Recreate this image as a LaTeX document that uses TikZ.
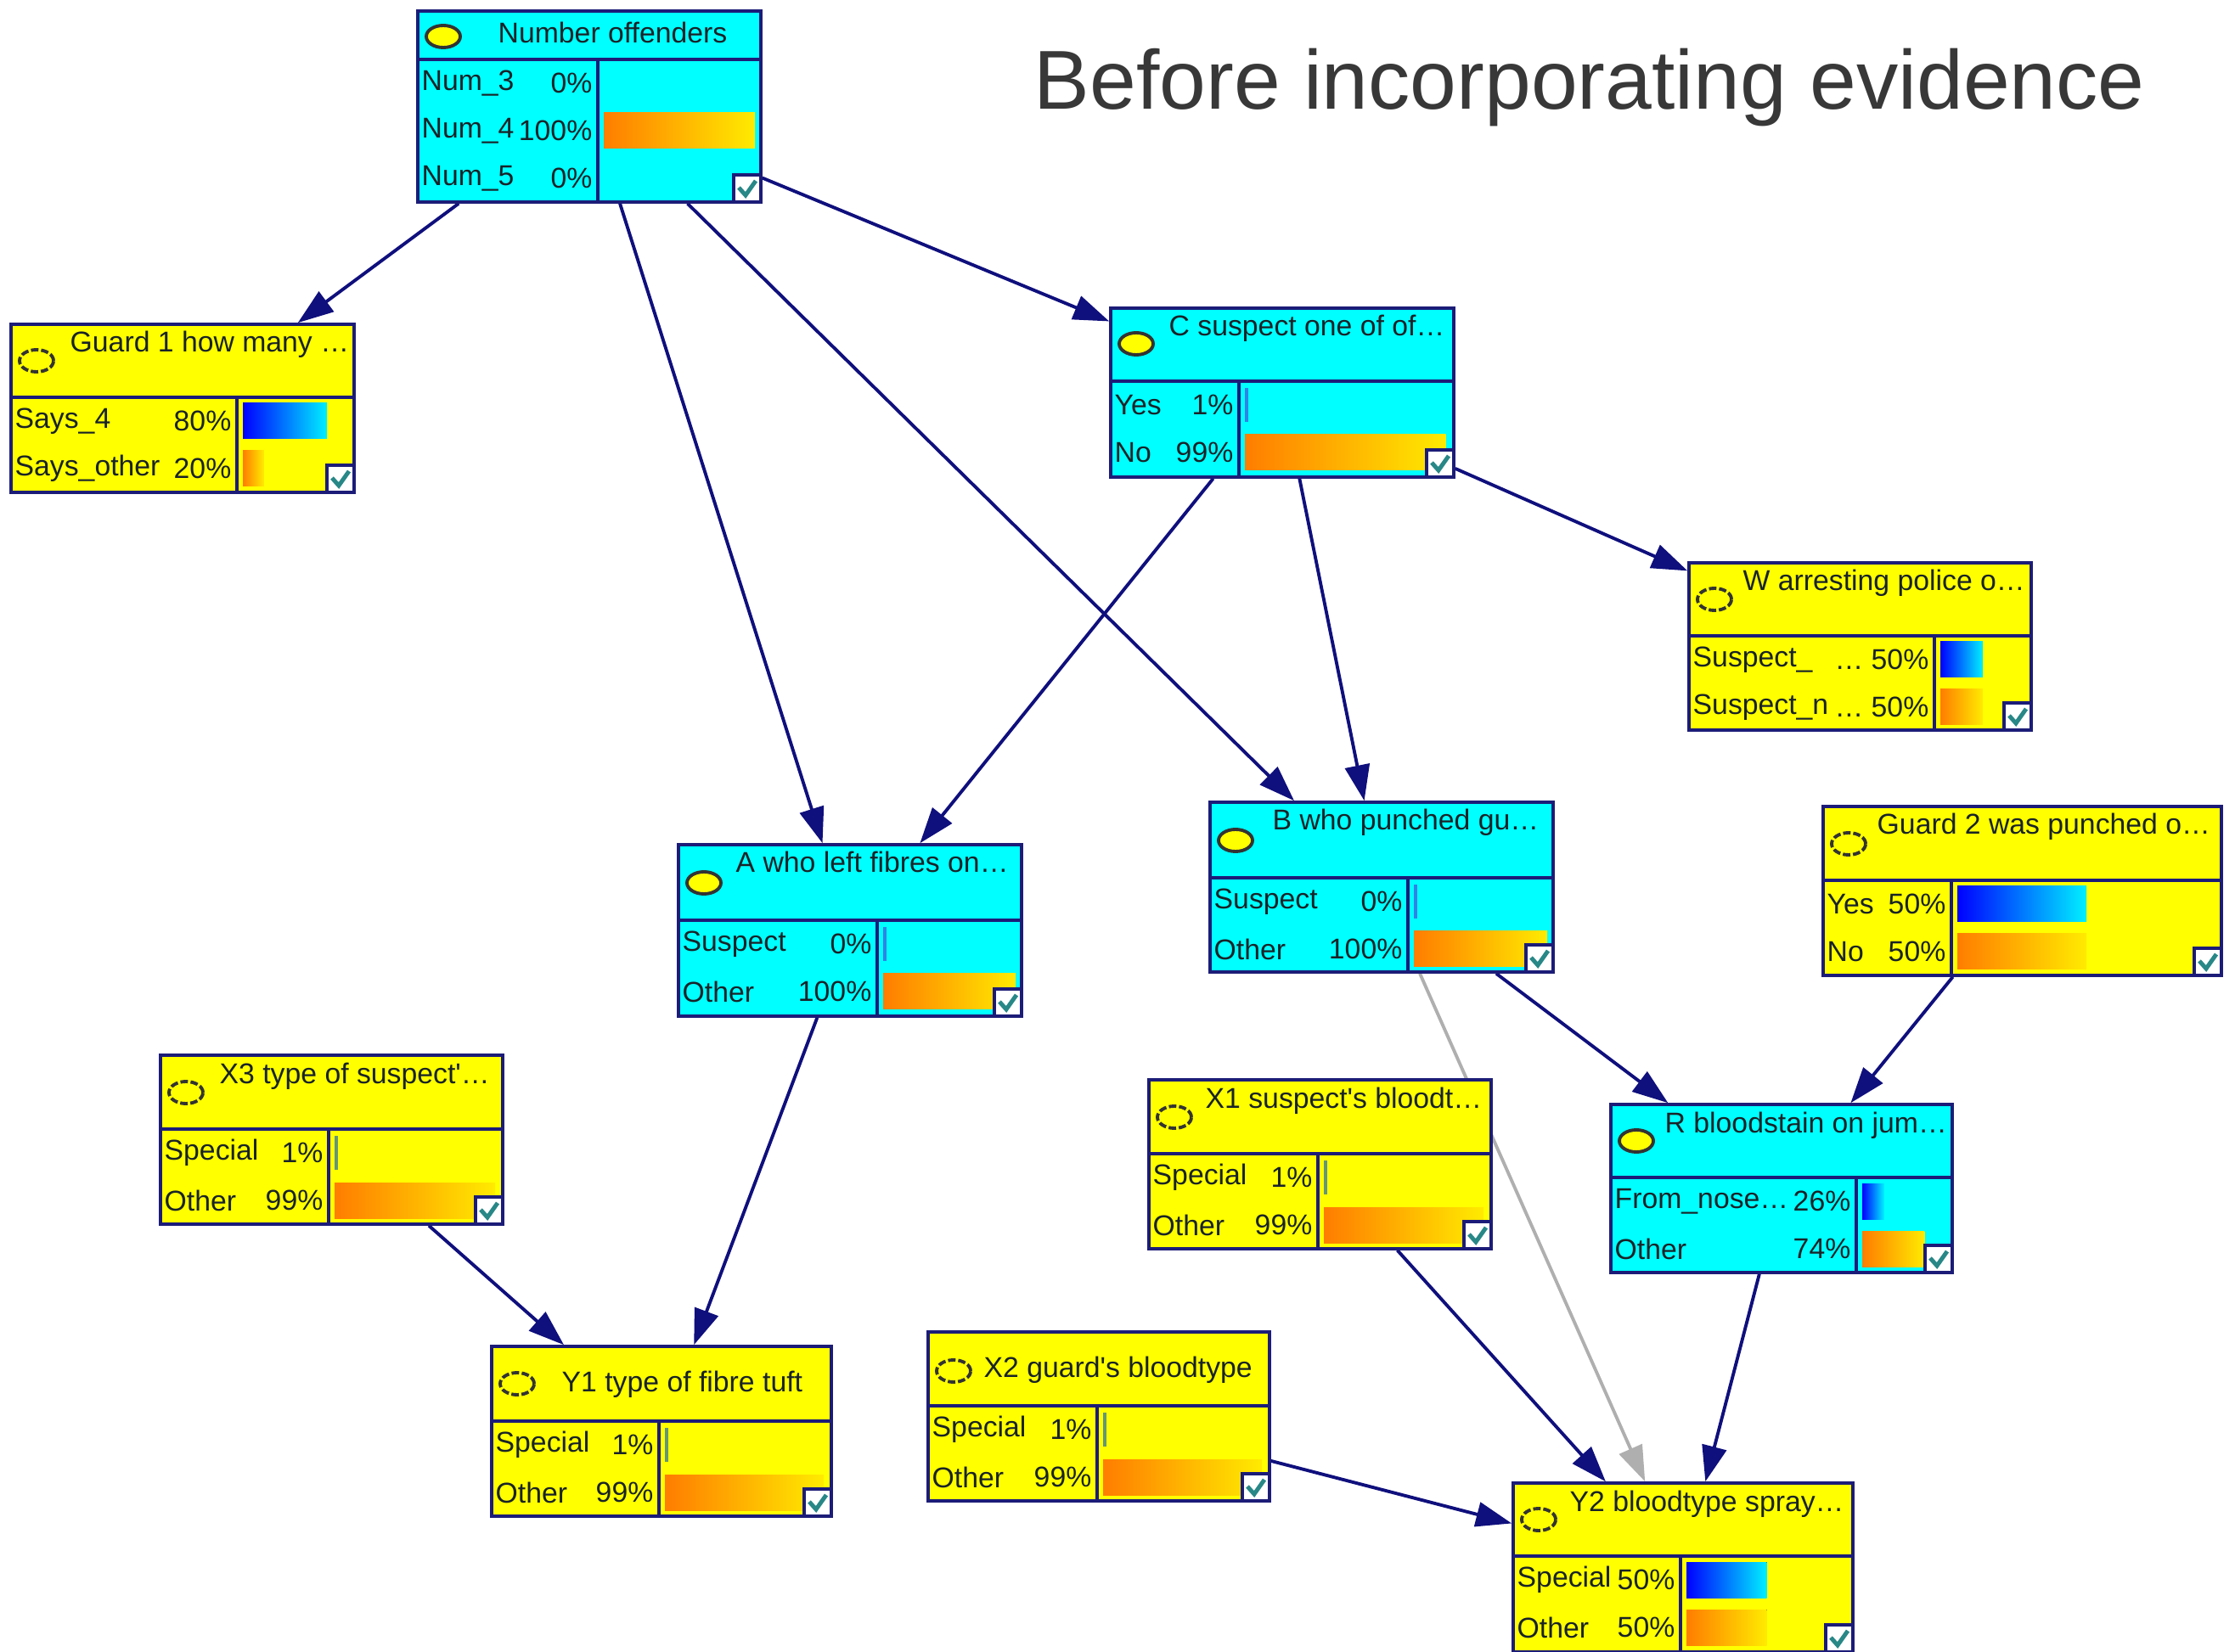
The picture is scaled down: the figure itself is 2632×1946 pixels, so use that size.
\documentclass[tikz,border=0pt]{standalone}
\usepackage{fontspec}
\setmainfont{Liberation Sans}
\usetikzlibrary{arrows.meta,backgrounds}
\definecolor{bnnavy}{RGB}{28,28,120}
\definecolor{bnlink}{RGB}{15,15,125}
\definecolor{bnink}{RGB}{25,35,40}
\definecolor{bncyan}{RGB}{0,255,255}
\definecolor{bnyellow}{RGB}{255,255,0}
\definecolor{bngrey}{RGB}{175,175,175}
\definecolor{bnteal}{RGB}{40,135,135}
\definecolor{barblue}{RGB}{0,0,255}
\definecolor{barcyan}{RGB}{0,240,255}
\definecolor{barorange}{RGB}{255,125,0}
\definecolor{baryellow}{RGB}{255,235,0}
\definecolor{thinblue}{RGB}{50,130,230}
\definecolor{thingreen}{RGB}{100,150,120}
\tikzset{
  bnbox/.style={draw=bnnavy, line width=1pt, inner sep=0pt},
  bnrule/.style={draw=bnnavy, line width=1pt},
  bntitle/.style={anchor=base west, text=bnink, font=\fontsize{9.6}{11}\selectfont, inner sep=0pt},
  bnrowtext/.style={text=bnink, font=\fontsize{9.6}{11}\selectfont, inner sep=0pt},
  bluebar/.style={left color=barblue, right color=barcyan},
  orangebar/.style={left color=barorange, right color=baryellow},
  markfull/.style={fill=bnyellow, draw=black!80, line width=1.1pt},
  markempty/.style={draw=black!80, line width=1.1pt, dash pattern=on 2.5pt off 0.9pt},
  flow/.style={-{Triangle[length=4.2mm,width=2.9mm]}, line width=1.1pt, draw=bnlink},
  flowgrey/.style={flow, draw=bngrey},
  tick/.style={draw=bnteal, line width=1.4pt}
}
% frame of one network node, drawn in a shifted scope
\newcommand{\bnframe}[6]{%
  \def\bnw{#3}\def\bnh{#4}\def\bndiv{#6}%
  \node[bnbox, fill=#2, minimum width=#3*0.01cm, minimum height=#4*0.01cm] (#1) at (#3/2,#4/2) {};
  \draw[bnrule] (0,#5) -- (#3,#5) (#6,#5) -- (#6,#4);
}
\newcommand{\bnoval}[2]{\draw[#2] (30,#1) ellipse [x radius=0.2cm, y radius=0.13cm];}
\newcommand{\bnrow}[3]{%
  \node[bnrowtext, anchor=west] at (4,#1) {#2};
  \node[bnrowtext, anchor=east] at (\bndiv-6,#1) {#3};
}
\newcommand{\bnbar}[3]{\fill[#3] (\bndiv+7,#1-21) rectangle ({\bndiv+7+#2/100*(\bnw-\bndiv-14)},#1+21);}
\newcommand{\bnthin}[2]{\draw[#2, line width=1pt] (\bndiv+9,#1-20) -- (\bndiv+9,#1+20);}
\newcommand{\bncheck}{%
  \draw[bnrule, fill=white] (\bnw-32,\bnh-32) rectangle (\bnw,\bnh);
  \draw[tick] (\bnw-26,\bnh-17) -- (\bnw-18,\bnh-8) -- (\bnw-6,\bnh-25);
}

\begin{document}
\begin{tikzpicture}[x=0.01cm, y=-0.01cm]
  \useasboundingbox (0,0) rectangle (2632,1946);

  \node[anchor=base west, inner sep=0pt, text=black!78, font=\fontsize{28}{32}\selectfont] (heading) at (1217,129) {Before incorporating evidence};

  \begin{scope}[shift={(492,13)}]
    \bnframe{noff}{bncyan}{404}{225}{57}{212}
    \bnoval{30}{markfull}
    \node[bntitle] at (94,38) {Number offenders};
    \bnrow{85}{Num\_3}{0\%}
    \bnrow{141}{Num\_4}{100\%}
    \bnrow{197}{Num\_5}{0\%}
    \bnbar{141}{100}{orangebar}
    \bncheck
  \end{scope}

  \begin{scope}[shift={(13,382)}]
    \bnframe{gone}{bnyellow}{404}{198}{86}{266}
    \bnoval{43}{markempty}
    \node[bntitle] at (69,33) {Guard 1 how many \ldots};
    \bnrow{114}{Says\_4}{80\%}
    \bnrow{170}{Says\_other}{20\%}
    \bnbar{114}{80}{bluebar}
    \bnbar{170}{20}{orangebar}
    \bncheck
  \end{scope}

  \begin{scope}[shift={(1308,363)}]
    \bnframe{csus}{bncyan}{404}{199}{86}{151}
    \bnoval{42}{markfull}
    \node[bntitle] at (68,33) {C suspect one of of\ldots};
    \bnrow{114}{Yes}{1\%}
    \bnrow{170}{No}{99\%}
    \bnthin{114}{thinblue}
    \bnbar{170}{99}{orangebar}
    \bncheck
  \end{scope}

  \begin{scope}[shift={(1989,663)}]
    \bnframe{warr}{bnyellow}{403}{197}{86}{289}
    \bnoval{43}{markempty}
    \node[bntitle] at (63,33) {W arresting police o\ldots};
    \bnrow{114}{Suspect\_}{\ldots\ 50\%}
    \bnrow{170}{Suspect\_n}{\ldots\ 50\%}
    \bnbar{114}{50}{bluebar}
    \bnbar{170}{50}{orangebar}
    \bncheck
  \end{scope}

  \begin{scope}[shift={(799,995)}]
    \bnframe{awho}{bncyan}{404}{202}{89}{234}
    \bnoval{45}{markfull}
    \node[bntitle] at (67,33) {A who left fibres on\ldots};
    \bnrow{117}{Suspect}{0\%}
    \bnrow{173}{Other}{100\%}
    \bnthin{117}{thinblue}
    \bnbar{173}{100}{orangebar}
    \bncheck
  \end{scope}

  \begin{scope}[shift={(1425,945)}]
    \bnframe{bwho}{bncyan}{404}{200}{89}{233}
    \bnoval{45}{markfull}
    \node[bntitle] at (73,33) {B who punched gu\ldots};
    \bnrow{117}{Suspect}{0\%}
    \bnrow{173}{Other}{100\%}
    \bnthin{117}{thinblue}
    \bnbar{173}{100}{orangebar}
    \bncheck
  \end{scope}

  \begin{scope}[shift={(2147,950)}]
    \bnframe{gtwo}{bnyellow}{469}{199}{87}{151}
    \bnoval{44}{markempty}
    \node[bntitle] at (63,33) {Guard 2 was punched o\ldots};
    \bnrow{115}{Yes}{50\%}
    \bnrow{171}{No}{50\%}
    \bnbar{115}{50}{bluebar}
    \bnbar{171}{50}{orangebar}
    \bncheck
  \end{scope}

  \begin{scope}[shift={(189,1243)}]
    \bnframe{xthree}{bnyellow}{403}{199}{87}{198}
    \bnoval{44}{markempty}
    \node[bntitle] at (69,33) {X3 type of suspect\textquotesingle\ldots};
    \bnrow{115}{Special}{1\%}
    \bnrow{171}{Other}{99\%}
    \bnthin{115}{thingreen}
    \bnbar{171}{99}{orangebar}
    \bncheck
  \end{scope}

  \begin{scope}[shift={(1353,1272)}]
    \bnframe{xone}{bnyellow}{403}{199}{87}{199}
    \bnoval{44}{markempty}
    \node[bntitle] at (66,33) {X1 suspect\textquotesingle s bloodt\ldots};
    \bnrow{115}{Special}{1\%}
    \bnrow{171}{Other}{99\%}
    \bnthin{115}{thingreen}
    \bnbar{171}{99}{orangebar}
    \bncheck
  \end{scope}

  \begin{scope}[shift={(1897,1301)}]
    \bnframe{rblood}{bncyan}{402}{198}{86}{289}
    \bnoval{43}{markfull}
    \node[bntitle] at (63,33) {R bloodstain on jum\ldots};
    \bnrow{114}{From\_nose\ldots}{26\%}
    \bnrow{170}{Other}{74\%}
    \bnbar{114}{26}{bluebar}
    \bnbar{170}{74}{orangebar}
    \bncheck
  \end{scope}

  \begin{scope}[shift={(579,1586)}]
    \bnframe{yone}{bnyellow}{400}{200}{88}{197}
    \bnoval{44}{markempty}
    \node[bntitle] at (82,53) {Y1 type of fibre tuft};
    \bnrow{116}{Special}{1\%}
    \bnrow{172}{Other}{99\%}
    \bnthin{116}{thingreen}
    \bnbar{172}{99}{orangebar}
    \bncheck
  \end{scope}

  \begin{scope}[shift={(1093,1569)}]
    \bnframe{xtwo}{bnyellow}{402}{199}{87}{199}
    \bnoval{46}{markempty}
    \node[bntitle] at (65,53) {X2 guard\textquotesingle s bloodtype};
    \bnrow{115}{Special}{1\%}
    \bnrow{171}{Other}{99\%}
    \bnthin{115}{thingreen}
    \bnbar{171}{99}{orangebar}
    \bncheck
  \end{scope}

  \begin{scope}[shift={(1782,1747)}]
    \bnframe{ytwo}{bnyellow}{400}{199}{86}{197}
    \bnoval{43}{markempty}
    \node[bntitle] at (66,33) {Y2 bloodtype spray\ldots};
    \bnrow{114}{Special}{50\%}
    \bnrow{170}{Other}{50\%}
    \bnbar{114}{50}{bluebar}
    \bnbar{170}{50}{orangebar}
    \bncheck
  \end{scope}

  % links go under the boxes
  \begin{scope}[on background layer]
    \draw[flow] (noff) -- (gone);
    \draw[flow] (noff) -- (awho);
    \draw[flow] (noff) -- (bwho);
    \draw[flow] (noff) -- (csus);
    \draw[flow] (csus) -- (awho);
    \draw[flow] (csus) -- (bwho);
    \draw[flow] (csus) -- (warr);
    \draw[flow] (awho) -- (yone);
    \draw[flow] (xthree) -- (yone);
    \draw[flow] (bwho) -- (rblood);
    \draw[flowgrey] (bwho) -- (ytwo);
    \draw[flow] (gtwo) -- (rblood);
    \draw[flow] (xone) -- (ytwo);
    \draw[flow] (rblood) -- (ytwo);
    \draw[flow] (xtwo) -- (ytwo);
  \end{scope}
\end{tikzpicture}
\end{document}
